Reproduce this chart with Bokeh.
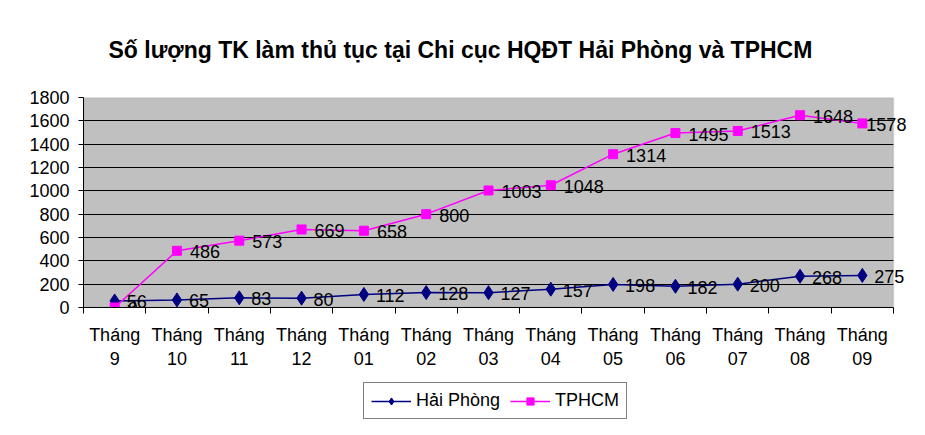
from bokeh.plotting import figure
from bokeh.layouts import column
from bokeh.models import (Range1d, FixedTicker, Legend, LegendItem, Title, LabelSet,
                          ColumnDataSource, BoxAnnotation, LinearAxis)
from bokeh.core.properties import value
from bokeh.embed import file_html
from bokeh.resources import INLINE

month_word = "Tháng"
month_nums = ["9", "10", "11", "12", "01", "02", "03", "04", "05", "06", "07", "08", "09"]
hai_phong = [56, 65, 83, 80, 112, 128, 127, 157, 198, 182, 200, 268, 275]
tphcm = [0, 486, 573, 669, 658, 800, 1003, 1048, 1314, 1495, 1513, 1648, 1578]
y_ticks = [0, 200, 400, 600, 800, 1000, 1200, 1400, 1600, 1800]
series_names = ["Hải Phòng", "TPHCM"]

FONT = "Liberation Sans"
FS = "18px"
N = len(month_nums)
xs = [i + 0.5 for i in range(N)]
YMAX = y_ticks[-1]
HP_COLOR, HC_COLOR = "#000080", "#FF00FF"

p = figure(frame_width=826, frame_height=210, output_backend="svg", toolbar_location=None,
           x_range=Range1d(0, N * 826 / 810), y_range=Range1d(0, YMAX),
           min_border_left=83, min_border_right=0, min_border_top=97, min_border_bottom=0)

p.title = Title(text="Số lượng TK làm thủ tục tại Chi cục HQĐT Hải Phòng và TPHCM",
                text_font=FONT, text_font_size="23px", text_font_style="bold",
                text_color="black", align="left", offset=25, standoff=69)

p.background_fill_color = "white"
p.border_fill_color = "white"
p.outline_line_color = None

p.quad(left=0, right=N, bottom=0, top=YMAX, fill_color="#C0C0C0", line_color=None, level="image")

p.xgrid.grid_line_color = None
p.ygrid.grid_line_color = "black"
p.ygrid.grid_line_width = 1
p.ygrid.ticker = FixedTicker(ticks=y_ticks)

p.add_layout(BoxAnnotation(left=N, fill_color="white", fill_alpha=1, line_color=None, level="underlay"))
p.add_layout(BoxAnnotation(left=0, right=N, bottom=0, top=YMAX, fill_alpha=0,
                           line_color="#808080", line_width=1.5, level="underlay"))

p.yaxis.ticker = FixedTicker(ticks=y_ticks)
p.yaxis.axis_line_color = "black"
p.yaxis.major_tick_line_color = "black"
p.yaxis.major_tick_out = 5
p.yaxis.major_tick_in = 0
p.yaxis.minor_tick_line_color = None
p.yaxis.major_label_text_font = FONT
p.yaxis.major_label_text_font_size = FS
p.yaxis.major_label_text_color = "black"
p.yaxis.major_label_standoff = 9

# x axis, first line of the category labels ("Tháng") with the category separators
xa = p.xaxis[0]
xa.ticker = FixedTicker(ticks=xs, minor_ticks=list(range(N + 1)))
xa.bounds = (0, N)
xa.major_label_overrides = {x: month_word for x in xs}
xa.axis_line_color = "black"
xa.major_tick_line_color = None
xa.major_tick_out = 0
xa.major_tick_in = 0
xa.minor_tick_line_color = "black"
xa.minor_tick_out = 6
xa.minor_tick_in = 0
xa.major_label_text_font = FONT
xa.major_label_text_font_size = FS
xa.major_label_text_color = "black"
xa.major_label_standoff = 11

# second line of the category labels (month numbers)
xa2 = LinearAxis(ticker=FixedTicker(ticks=xs, minor_ticks=[]),
                 major_label_overrides={x: m for x, m in zip(xs, month_nums)},
                 axis_line_color=None, major_tick_line_color=None, minor_tick_line_color=None,
                 major_tick_out=0, major_tick_in=0, minor_tick_out=0, minor_tick_in=0,
                 major_label_text_font=FONT, major_label_text_font_size=FS,
                 major_label_text_color="black", major_label_standoff=4)
p.add_layout(xa2, "below")

p.line(xs, hai_phong, line_color=HP_COLOR, line_width=1.5)
p.scatter(xs, hai_phong, marker="diamond", size=14, fill_color=HP_COLOR, line_color=HP_COLOR)
p.line(xs, tphcm, line_color=HC_COLOR, line_width=1.5)
p.scatter(xs, tphcm, marker="square", size=9, fill_color=HC_COLOR, line_color=HC_COLOR)

hc_dx = [13] * (N - 1) + [4]
src_hp = ColumnDataSource(dict(x=xs, y=hai_phong, t=[str(v) for v in hai_phong]))
src_hc = ColumnDataSource(dict(x=xs, y=tphcm, t=[str(v) for v in tphcm], dx=hc_dx))
p.add_layout(LabelSet(x="x", y="y", text="t", source=src_hp, x_offset=12, y_offset=-1,
                      text_font=value(FONT), text_font_size=FS, text_color="black",
                      text_align="left", text_baseline="middle"))
p.add_layout(LabelSet(x="x", y="y", text="t", source=src_hc, x_offset="dx", y_offset=-1,
                      text_font=value(FONT), text_font_size=FS, text_color="black",
                      text_align="left", text_baseline="middle"))

# legend strip below the chart (its frame is aligned with the chart frame by the column)
p2 = figure(width=909, height=53, output_backend="svg", toolbar_location=None,
            x_range=Range1d(0, 1), y_range=Range1d(0, 1), min_border=0)
p2.axis.visible = False
p2.grid.visible = False
p2.outline_line_color = None
p2.background_fill_color = "white"
p2.border_fill_color = "white"
# legend proxies: one point each, outside the visible range, only used for the legend samples
off = [-10.0]
l_hp = p2.line(x=off, y=off, line_color=HP_COLOR, line_width=1.5)
m_hp = p2.scatter(x=off, y=off, marker="diamond", size=14, fill_color=HP_COLOR, line_color=HP_COLOR)
l_hc = p2.line(x=off, y=off, line_color=HC_COLOR, line_width=1.5)
m_hc = p2.scatter(x=off, y=off, marker="square", size=9, fill_color=HC_COLOR, line_color=HC_COLOR)

legend = Legend(items=[LegendItem(label=series_names[0], renderers=[l_hp, m_hp]),
                       LegendItem(label=series_names[1], renderers=[l_hc, m_hc])],
                orientation="horizontal", location=(280, 1),
                label_text_font=FONT, label_text_font_size=FS, label_text_color="black",
                border_line_color="black", border_line_width=1, background_fill_color="white",
                background_fill_alpha=1, glyph_width=40, glyph_height=18,
                padding=7, spacing=10, margin=0, label_standoff=5)
p2.add_layout(legend, "center")

layout = column(p, p2, spacing=0)
open("out.html", "w").write(file_html(layout, INLINE))
